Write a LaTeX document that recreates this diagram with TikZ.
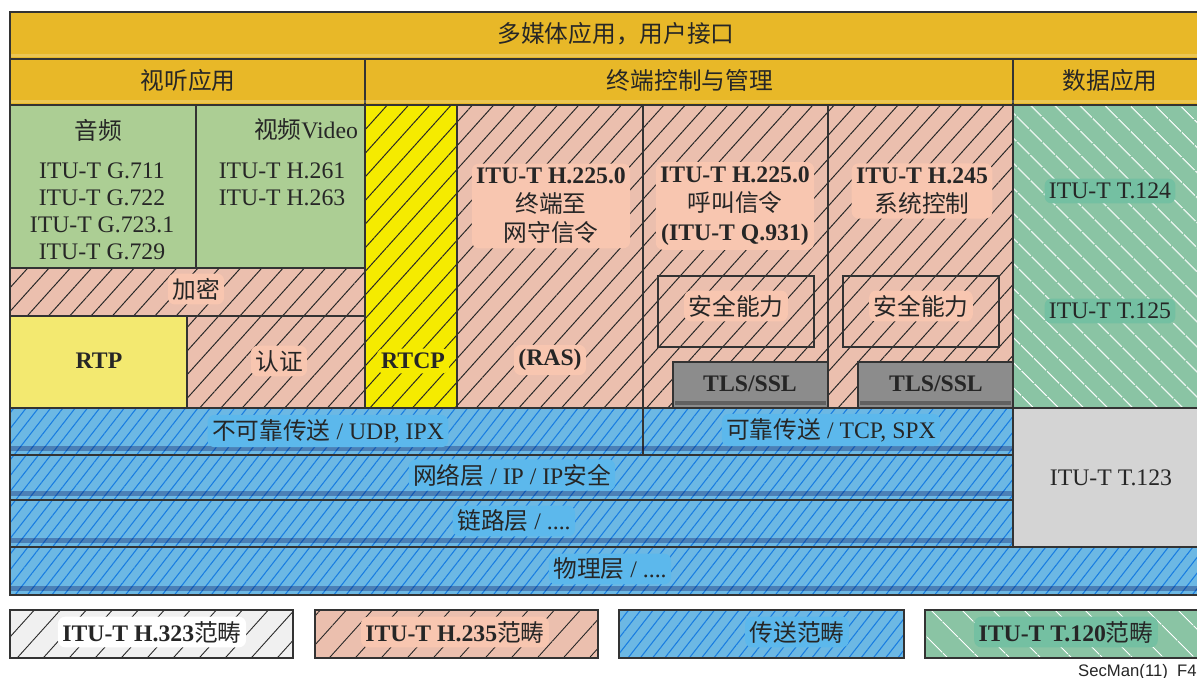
\documentclass[tikz,border=0pt]{standalone}
\usepackage{fontspec}
\setmainfont{Liberation Serif}
\newfontfamily\cjk{Noto Sans CJK SC}
\newfontfamily\tagfont{Liberation Sans}
\usetikzlibrary{patterns.meta}

\newcommand{\zh}[1]{{\cjk #1}}

\definecolor{appgold}{RGB}{232,184,40}
\definecolor{audiogreen}{RGB}{172,206,148}
\definecolor{secpink}{RGB}{235,191,174}
\definecolor{pinkhalo}{RGB}{248,198,176}
\definecolor{rtpyellow}{RGB}{243,233,112}
\definecolor{rtcpyellow}{RGB}{245,235,0}
\definecolor{netblue}{RGB}{108,184,228}
\definecolor{bluehalo}{RGB}{92,184,236}
\definecolor{blueline}{RGB}{25,125,225}
\definecolor{datagreen}{RGB}{138,196,164}
\definecolor{greenhalo}{RGB}{116,192,162}
\definecolor{tlsgray}{RGB}{140,140,140}
\definecolor{tgray}{RGB}{212,212,212}
\definecolor{paper}{RGB}{240,240,240}

\tikzset{
  frame/.style={draw=black!80, line width=0.7pt},
  goldbox/.style={frame, fill=appgold},
  pinkbox/.style={frame, preaction={fill=secpink},
    pattern={Lines[angle=48,distance=9pt,line width=0.55pt]}, pattern color=black!85},
  rtcpbox/.style={frame, preaction={fill=rtcpyellow},
    pattern={Lines[angle=48,distance=9pt,line width=0.55pt]}, pattern color=black!85},
  netbox/.style={frame, preaction={fill=netblue},
    pattern={Lines[angle=52,distance=5.5pt,line width=0.6pt]}, pattern color=blueline},
  databox/.style={frame, preaction={fill=datagreen},
    pattern={Lines[angle=-45,distance=10.5pt,line width=0.6pt]}, pattern color=white},
  lbl/.style={font=\fontsize{13.5}{16.5}\selectfont, text=black!85, inner sep=1pt},
  halo/.style={fill=#1, inner sep=2.5pt, rounded corners=4pt},
}

\begin{document}
\begin{tikzpicture}[x=0.02cm, y=-0.02cm]
\useasboundingbox (0,0) rectangle (1197,677);

% ===== application rows =====
\draw[goldbox] (10,12) rectangle (1210,59);
\draw[goldbox] (10,59) rectangle (365,105);
\draw[goldbox] (365,59) rectangle (1013,105);
\draw[goldbox] (1013,59) rectangle (1210,105);
\foreach \yb in {59,105}
  \fill[white, opacity=0.2] (11,\yb-5) rectangle (1209,\yb-2);

% ===== audio / video =====
\draw[frame, fill=audiogreen] (10,105) rectangle (196,268);
\draw[frame, fill=audiogreen] (196,105) rectangle (365,268);
\draw[pinkbox] (10,268) rectangle (365,316);
\draw[frame, fill=rtpyellow] (10,316) rectangle (187,408);
\draw[pinkbox] (187,316) rectangle (365,408);

% ===== terminal control columns =====
\draw[rtcpbox] (365,105) rectangle (457,408);
\draw[pinkbox] (457,105) rectangle (643,408);
\draw[pinkbox] (643,105) rectangle (828,408);
\draw[pinkbox] (828,105) rectangle (1013,408);
\draw[frame] (658,276) rectangle (814,347);
\draw[frame] (843,276) rectangle (999,347);
\draw[frame, fill=tlsgray] (673,362) rectangle (828,408);
\draw[frame, fill=tlsgray] (858,362) rectangle (1013,408);
\foreach \xl in {673,858}
  \fill[black, opacity=0.3] (\xl+2,408-7) rectangle (\xl+153,408-3);

% ===== data application =====
\draw[databox] (1013,105) rectangle (1210,408);
\draw[frame, fill=tgray] (1013,408) rectangle (1210,547);

% ===== transport layers =====
\draw[netbox] (10,408) rectangle (643,455);
\draw[netbox] (643,408) rectangle (1013,455);
\draw[netbox] (10,455) rectangle (1013,500);
\draw[netbox] (10,500) rectangle (1013,547);
\draw[netbox] (10,547) rectangle (1210,595);
\foreach \yb/\xr in {455/1013, 500/1013, 547/1013, 595/1210}
  \fill[black!70!blue, opacity=0.3] (11,\yb-9) rectangle (\xr-1,\yb-4);

% ===== legend =====
\draw[frame, preaction={fill=paper}, pattern={Lines[angle=48,distance=11pt,line width=0.5pt]}, pattern color=black!85] (10,610) rectangle (293,658);
\draw[frame, preaction={fill=secpink}, pattern={Lines[angle=48,distance=11pt,line width=0.5pt]}, pattern color=black!85] (315,610) rectangle (598,658);
\draw[netbox] (619,610) rectangle (904,658);
\draw[frame, preaction={fill=datagreen}, pattern={Lines[angle=-45,distance=13pt,line width=0.6pt]}, pattern color=white] (925,610) rectangle (1210,658);

% ===== labels =====
\node[lbl] (mmapp) at (616,34) {\zh{多媒体应用，用户接口}};
\node[lbl] (avapp) at (188,80) {\zh{视听应用}};
\node[lbl] (termctl) at (690,80) {\zh{终端控制与管理}};
\node[lbl] (dataapp) at (1110,80) {\zh{数据应用}};

\node[lbl] (audio) at (98,130) {\zh{音频}};
\node[lbl, align=center, font=\fontsize{13.5}{15.4}\selectfont] (gcodecs) at (102,211)
  {ITU-T G.711\\ITU-T G.722\\ITU-T G.723.1\\ITU-T G.729};
\node[lbl] (video) at (306,130) {\zh{视频}Video};
\node[lbl, align=center, font=\fontsize{13.5}{15.4}\selectfont] (hcodecs) at (282,184)
  {ITU-T H.261\\ITU-T H.263};
\node[lbl, halo=pinkhalo] (crypt) at (196,289) {\zh{加密}};
\node[lbl] (rtp) at (99,361) {\textbf{RTP}};
\node[lbl, halo=pinkhalo] (auth) at (279,361) {\zh{认证}};

\node[lbl, halo=rtcpyellow] (rtcp) at (413,361) {\textbf{RTCP}};
\node[lbl, halo=pinkhalo, align=center] (rassig) at (551,206)
  {\textbf{ITU-T H.225.0}\\\zh{终端至}\\\zh{网守信令}};
\node[lbl, halo=pinkhalo] (ras) at (550,360) {\textbf{(RAS)}};
\node[lbl, halo=pinkhalo, align=center] (callsig) at (735,206)
  {\textbf{ITU-T H.225.0}\\\zh{呼叫信令}\\\textbf{(ITU-T Q.931)}};
\node[lbl, halo=pinkhalo, align=center] (h245) at (922,191)
  {\textbf{ITU-T H.245}\\\zh{系统控制}};
\node[lbl, halo=pinkhalo] (secA) at (736,306) {\zh{安全能力}};
\node[lbl, halo=pinkhalo] (secB) at (921,306) {\zh{安全能力}};
\node[lbl] (tlsA) at (750,384) {\textbf{TLS/SSL}};
\node[lbl] (tlsB) at (936,384) {\textbf{TLS/SSL}};

\node[lbl, halo=greenhalo] (t124) at (1110,191) {ITU-T T.124};
\node[lbl, halo=greenhalo] (t125) at (1110,311) {ITU-T T.125};
\node[lbl] (t123) at (1111,478) {ITU-T T.123};

\node[lbl, halo=bluehalo] (udp) at (328,431) {\zh{不可靠传送} / UDP, IPX};
\node[lbl, halo=bluehalo] (tcp) at (831,430) {\zh{可靠传送} / TCP, SPX};
\node[lbl, halo=bluehalo] (netw) at (512,475) {\zh{网络层} / IP / IP\zh{安全}};
\node[lbl, halo=bluehalo] (link) at (514,521) {\zh{链路层} / ....};
\node[lbl, halo=bluehalo] (phys) at (610,569) {\zh{物理层} / ....};

\node[lbl, halo=white] (keyA) at (152,632) {\textbf{ITU-T H.323}\zh{范畴}};
\node[lbl, halo=pinkhalo] (keyB) at (455,632) {\textbf{ITU-T H.235}\zh{范畴}};
\node[lbl, halo=bluehalo] (keyC) at (797,632) {\zh{传送范畴}};
\node[lbl, halo=greenhalo] (keyD) at (1066,632) {\textbf{ITU-T T.120}\zh{范畴}};

\node[anchor=base east, font=\tagfont\fontsize{9.5}{11}\selectfont, text=black!85, inner sep=0pt] (figtag) at (1197,676) {SecMan(11)\_F4};
\end{tikzpicture}
\end{document}
